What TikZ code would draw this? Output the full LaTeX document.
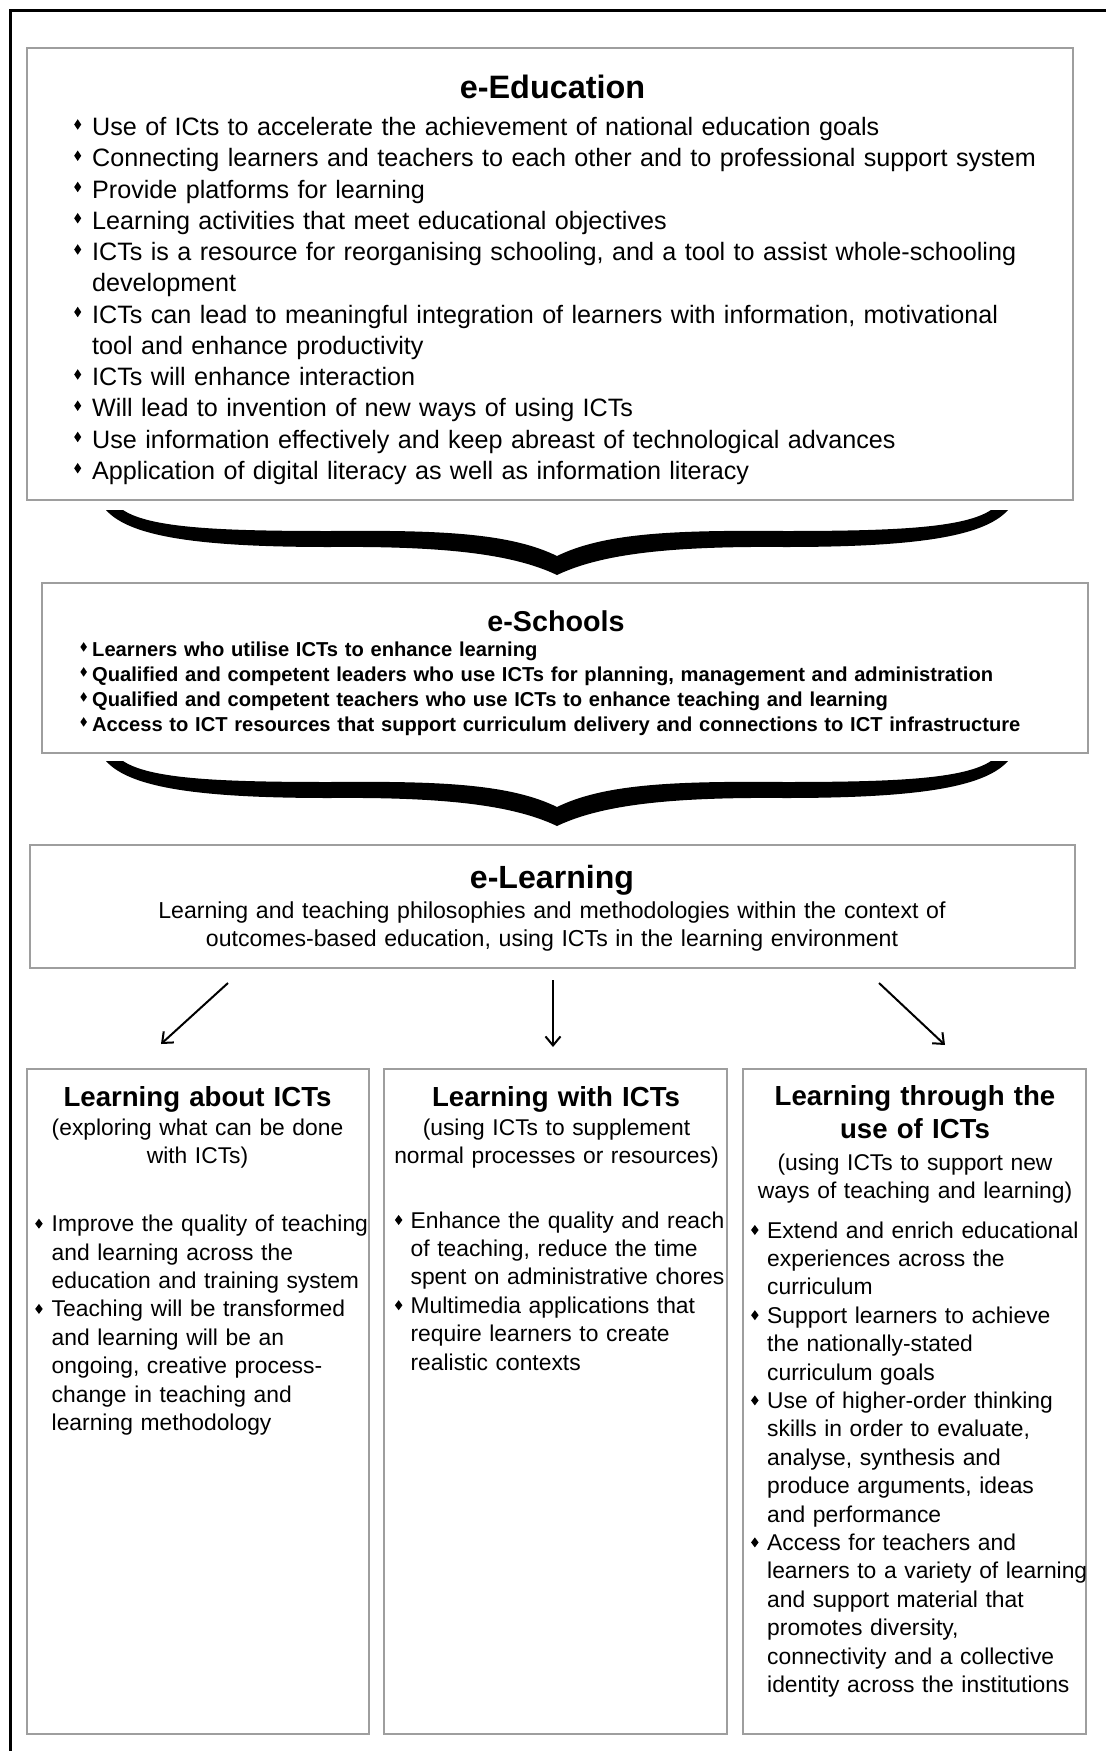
\documentclass[tikz,border=0pt]{standalone}
\usepackage{fontspec}
\setmainfont{Liberation Sans}
\usetikzlibrary{arrows.meta}
\definecolor{boxgray}{RGB}{158,158,158}
% small diamond bullet: width \dw, height \dh, raised \dr above the baseline, left offset \bp
\def\dw{6.5}\def\dh{10}\def\dr{6}\def\bp{2}
\newcommand\dia{\tikz[x=1pt,y=1pt,baseline=0pt]\fill[black] (0,\dr+\dh/2) -- (\dw/2,\dr+\dh) -- (\dw,\dr+\dh/2) -- (\dw/2,\dr) -- cycle;}
\newcommand\itm[1]{\hangindent=20pt\hangafter=1\noindent\makebox[20pt][l]{\hspace{\bp pt}\dia}#1\par}
\tikzset{
  box/.style={draw=boxgray, line width=1.5pt, inner sep=0pt, outer sep=0pt, fill=none},
  ttl/.style={anchor=base, inner sep=0pt, text width=#1, align=center},
  lst/.style={anchor=base west, inner sep=0pt, text width=1000pt, align=left},
  arr/.style={line width=2pt, -{Straight Barb[length=9pt,width=15pt]}}
}
\begin{document}
\begin{tikzpicture}[x=1pt,y=-1pt]
\useasboundingbox (0,0) rectangle (1106,1751);
% outer frame (left and top only)
\draw[line width=3.2pt] (10.3,1751) -- (10.3,10.3) -- (1106,10.3);

% ---------------- e-Education ----------------
\node[box, minimum width=1046pt, minimum height=452pt] (ebox) at (550,274) {};
\node[anchor=base, inner sep=0pt, font=\bfseries\fontsize{32.4}{38}\selectfont] (etitle) at (552.5,98) {e-Education};
\node[lst, font=\fontsize{25.15}{31.25}\selectfont] (elist) at (72,135.7) {%
\def\dw{7}\def\dh{10.5}\def\dr{6}\def\bp{2}%
\itm{Use of ICts to accelerate the achievement of national education goals}%
\itm{Connecting learners and teachers to each other and to professional support system}%
\itm{Provide platforms for learning}%
\itm{Learning activities that meet educational objectives}%
\itm{ICTs is a resource for reorganising schooling, and a tool to assist whole-schooling\newline development}%
\itm{ICTs can lead to meaningful integration of learners with information, motivational\newline tool and enhance productivity}%
\itm{ICTs will enhance interaction}%
\itm{Will lead to invention of new ways of using ICTs}%
\itm{Use information effectively and keep abreast of technological advances}%
\itm{Application of digital literacy as well as information literacy}};

% brace 1
\fill[black] (106,510) .. controls (130,537) and (200,547) .. (330,547)
  .. controls (450,546) and (515,555) .. (557,575)
  .. controls (599,555) and (664,546) .. (784,547)
  .. controls (914,547) and (984,537) .. (1008,510)
  -- (991,510)
  .. controls (964,528) and (894,531) .. (784,531)
  .. controls (674,530) and (604,533) .. (557,556)
  .. controls (510,533) and (440,530) .. (330,531)
  .. controls (220,531) and (150,528) .. (123,510) -- cycle;

% ---------------- e-Schools ----------------
\node[box, minimum width=1046pt, minimum height=170pt] (sbox) at (565,668) {};
\node[anchor=base, inner sep=0pt, font=\bfseries\fontsize{28.7}{34}\selectfont] (stitle) at (556,631.7) {e-Schools};
\node[lst, font=\bfseries\fontsize{20.15}{25}\selectfont] (slist) at (72,656.7) {%
\def\dw{6.5}\def\dh{9.5}\def\dr{5}\def\bp{8.2}%
\itm{Learners who utilise ICTs to enhance learning}%
\itm{Qualified and competent leaders who use ICTs for planning, management and administration}%
\itm{Qualified and competent teachers who use ICTs to enhance teaching and learning}%
\itm{Access to ICT resources that support curriculum delivery and connections to ICT infrastructure}};

% brace 2
\begin{scope}[shift={(0,251)}]
\fill[black] (106,510) .. controls (130,537) and (200,547) .. (330,547)
  .. controls (450,546) and (515,555) .. (557,575)
  .. controls (599,555) and (664,546) .. (784,547)
  .. controls (914,547) and (984,537) .. (1008,510)
  -- (991,510)
  .. controls (964,528) and (894,531) .. (784,531)
  .. controls (674,530) and (604,533) .. (557,556)
  .. controls (510,533) and (440,530) .. (330,531)
  .. controls (220,531) and (150,528) .. (123,510) -- cycle;
\end{scope}

% ---------------- e-Learning ----------------
\node[box, minimum width=1045pt, minimum height=123pt] (lbox) at (552.5,906.5) {};
\node[anchor=base, inner sep=0pt, font=\bfseries\fontsize{32.1}{38}\selectfont] (ltitle) at (552,888) {e-Learning};
\node[ttl=1000pt, font=\fontsize{23.1}{28.7}\selectfont] (ltext) at (552,918) {Learning and teaching philosophies and methodologies within the context of\\outcomes-based education, using ICTs in the learning environment};

% arrows
\coordinate (a1s) at (228,983);
\coordinate (a1e) at (161,1044);
\coordinate (a2s) at (553,980);
\coordinate (a2e) at (553,1047);
\coordinate (a3s) at (879,983);
\coordinate (a3e) at (945,1045);
\draw[arr] (a1s) -- (a1e);
\draw[arr] (a2s) -- (a2e);
\draw[arr] (a3s) -- (a3e);

% ---------------- three columns ----------------
\node[box, minimum width=342pt, minimum height=665pt] (b1) at (198,1401.5) {};
\node[box, minimum width=343pt, minimum height=665pt] (b2) at (555.5,1401.5) {};
\node[box, minimum width=343pt, minimum height=665pt] (b3) at (914.5,1401.5) {};

\node[ttl=340pt, font=\bfseries\fontsize{27.6}{32.8}\selectfont] (t1) at (197.5,1106.7) {Learning about ICTs};
\node[ttl=340pt, font=\fontsize{22.8}{28.3}\selectfont] (s1) at (197.5,1135) {(exploring what can be done\\with ICTs)};
\node[lst, font=\fontsize{22.85}{28.4}\selectfont] (l1) at (31.5,1231.7) {%
\def\dw{7.5}\def\dh{10}\def\dr{3}\def\bp{3.5}%
\itm{Improve the quality of teaching\newline and learning across the\newline education and training system}%
\itm{Teaching will be transformed\newline and learning will be an\newline ongoing, creative process-\newline change in teaching and\newline learning methodology}};

\node[ttl=340pt, font=\bfseries\fontsize{27.6}{32.8}\selectfont] (t2) at (556,1106.7) {Learning with ICTs};
\node[ttl=340pt, font=\fontsize{22.8}{28.3}\selectfont] (s2) at (556.5,1135) {(using ICTs to supplement\\normal processes or resources)};
\node[lst, font=\fontsize{22.85}{28.4}\selectfont] (l2) at (390.4,1228) {%
\def\dw{7.5}\def\dh{10}\def\dr{3}\def\bp{4.3}%
\itm{Enhance the quality and reach\newline of teaching, reduce the time\newline spent on administrative chores}%
\itm{Multimedia applications that\newline require learners to create\newline realistic contexts}};

\node[ttl=340pt, font=\bfseries\fontsize{27.6}{32.8}\selectfont] (t3) at (915,1105.5) {Learning through the\\use of ICTs};
\node[ttl=340pt, font=\fontsize{22.8}{28.3}\selectfont] (s3) at (915,1170) {(using ICTs to support new\\ways of teaching and learning)};
\node[lst, font=\fontsize{22.85}{28.4}\selectfont] (l3) at (747,1238) {%
\def\dw{7.5}\def\dh{10}\def\dr{3}\def\bp{3.9}%
\itm{Extend and enrich educational\newline experiences across the\newline curriculum}%
\itm{Support learners to achieve\newline the nationally-stated\newline curriculum goals}%
\itm{Use of higher-order thinking\newline skills in order to evaluate,\newline analyse, synthesis and\newline produce arguments, ideas\newline and performance}%
\itm{Access for teachers and\newline learners to a variety of learning\newline and support material that\newline promotes diversity,\newline connectivity and a collective\newline identity across the institutions}};
\end{tikzpicture}
\end{document}
